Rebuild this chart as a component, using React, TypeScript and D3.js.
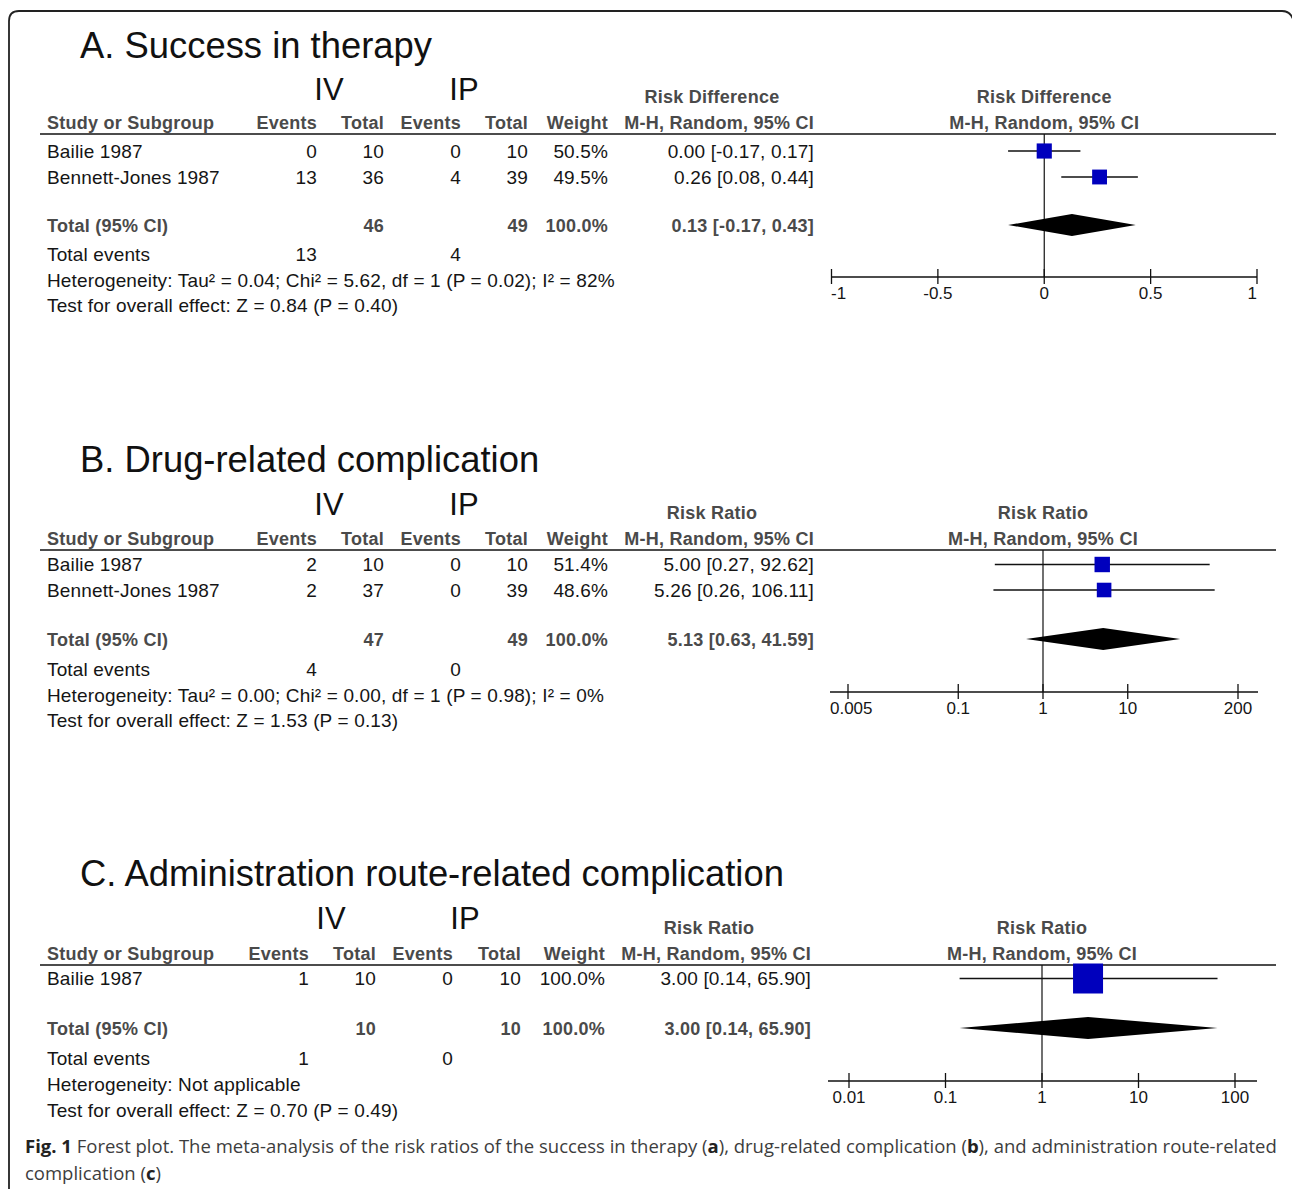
import React from 'react';
import * as d3 from 'd3';

// ---------------- Data ----------------
const panelTitles = [
  'A. Success in therapy',
  'B. Drug-related complication',
  'C. Administration route-related complication',
];
const measureLabels = ['Risk Difference', 'Risk Ratio', 'Risk Ratio'];
const groupLabels = ['IV', 'IP'];
const columnHeaders = ['Events', 'Total', 'Events', 'Total', 'Weight', 'M-H, Random, 95% CI'];

// A. Success in therapy (risk difference)
const studiesA = ['Bailie 1987', 'Bennett-Jones 1987'];
const ivEventsA = [0, 13];
const ivTotalA = [10, 36];
const ipEventsA = [0, 4];
const ipTotalA = [10, 39];
const weightA = [50.5, 49.5];
const estA = [0.0, 0.26];
const lowA = [-0.17, 0.08];
const highA = [0.17, 0.44];
const pooledA = [0.13, -0.17, 0.43];
const totalsA = [46, 49];
const totalEventsA = [13, 4];
const heterogeneityA = 'Heterogeneity: Tau² = 0.04; Chi² = 5.62, df = 1 (P = 0.02); I² = 82%';
const overallA = 'Test for overall effect: Z = 0.84 (P = 0.40)';
const ticksA = [-1, -0.5, 0, 0.5, 1];

// B. Drug-related complication (risk ratio)
const studiesB = ['Bailie 1987', 'Bennett-Jones 1987'];
const ivEventsB = [2, 2];
const ivTotalB = [10, 37];
const ipEventsB = [0, 0];
const ipTotalB = [10, 39];
const weightB = [51.4, 48.6];
const estB = [5.0, 5.26];
const lowB = [0.27, 0.26];
const highB = [92.62, 106.11];
const pooledB = [5.13, 0.63, 41.59];
const totalsB = [47, 49];
const totalEventsB = [4, 0];
const heterogeneityB = 'Heterogeneity: Tau² = 0.00; Chi² = 0.00, df = 1 (P = 0.98); I² = 0%';
const overallB = 'Test for overall effect: Z = 1.53 (P = 0.13)';
const ticksB = [0.005, 0.1, 1, 10, 200];

// C. Administration route-related complication (risk ratio)
const studiesC = ['Bailie 1987'];
const ivEventsC = [1];
const ivTotalC = [10];
const ipEventsC = [0];
const ipTotalC = [10];
const weightC = [100.0];
const estC = [3.0];
const lowC = [0.14];
const highC = [65.9];
const pooledC = [3.0, 0.14, 65.9];
const totalsC = [10, 10];
const totalEventsC = [1, 0];
const heterogeneityC = 'Heterogeneity: Not applicable';
const overallC = 'Test for overall effect: Z = 0.70 (P = 0.49)';
const ticksC = [0.01, 0.1, 1, 10, 100];

// Caption segments: [text, bold]
const captionLine1: [string, boolean][] = [
  ['Fig. 1', true],
  [' Forest plot. The meta-analysis of the risk ratios of the success in therapy (', false],
  ['a', true],
  ['), drug-related complication (', false],
  ['b', true],
  ['), and administration route-related', false],
];
const captionLine2: [string, boolean][] = [
  ['complication (', false],
  ['c', true],
  [')', false],
];

// ---------------- Layout ----------------
const FONT = '"Liberation Sans", Arial, sans-serif';
const CAP_FONT = '"Open Sans", "Noto Sans", sans-serif';
const HEAD_COLOR = '#4a4a4a';
const TEXT_COLOR = '#151515';
const SQUARE_COLOR = '#0000bd';

type Layout = {
  titleY: number;
  groupY: number;
  lineY: number;
  cols: number[];
  ivX: number;
  ipX: number;
  rowY: number[];
  totalY: number;
  eventsY: number;
  hetY: number;
  testY: number;
  axisY: number;
  axisLine: [number, number];
  tickRange: [number, number];
};

const layoutA: Layout = {
  titleY: 58, groupY: 100, lineY: 134,
  cols: [317, 384, 461, 528, 608, 814], ivX: 329, ipX: 464,
  rowY: [151, 177], totalY: 225, eventsY: 254, hetY: 280, testY: 305,
  axisY: 277, axisLine: [831, 1257], tickRange: [831.5, 1257],
};
const layoutB: Layout = {
  titleY: 472, groupY: 515, lineY: 550,
  cols: [317, 384, 461, 528, 608, 814], ivX: 329, ipX: 464,
  rowY: [564.5, 590], totalY: 639, eventsY: 669, hetY: 695, testY: 720,
  axisY: 692, axisLine: [830, 1258], tickRange: [848, 1238],
};
const layoutC: Layout = {
  titleY: 886, groupY: 929, lineY: 965,
  cols: [309, 376, 453, 521, 605, 811], ivX: 331, ipX: 465,
  rowY: [978.5], totalY: 1028, eventsY: 1058, hetY: 1084, testY: 1110,
  axisY: 1081, axisLine: [828, 1257], tickRange: [849, 1235],
};

let ctx: CanvasRenderingContext2D | null = null;
function measure(text: string, font: string): number {
  if (!ctx) ctx = document.createElement('canvas').getContext('2d');
  if (!ctx) return text.length * 9;
  ctx.font = font;
  return ctx.measureText(text).width;
}

const f2 = (v: number) => v.toFixed(2);
const f1 = (v: number) => v.toFixed(1);

type PanelData = {
  title: string;
  measure: string;
  studies: string[];
  ivEvents: number[];
  ivTotal: number[];
  ipEvents: number[];
  ipTotal: number[];
  weight: number[];
  est: number[];
  low: number[];
  high: number[];
  pooled: number[];
  totals: number[];
  totalEvents: number[];
  het: string;
  overall: string;
  ticks: number[];
  log: boolean;
};

function Panel({ d, L }: { d: PanelData; L: Layout }) {
  const dom = [d.ticks[0], d.ticks[d.ticks.length - 1]];
  const x = d.log
    ? d3.scaleLog().domain(dom).range(L.tickRange)
    : d3.scaleLinear().domain(dom).range(L.tickRange);
  const sizeScale = d3.scaleLinear().domain([0, 100]).range([0, 30]);
  const [cEv, cTot, cEv2, cTot2, cW, cCI] = L.cols;
  const base = (y: number) => y + 6.5;
  const tickFont = `17px ${FONT}`;
  const bodyStyle = { fontFamily: FONT, fontSize: 19, letterSpacing: 0.15, fill: TEXT_COLOR };
  const headStyle = { fontFamily: FONT, fontSize: 18, letterSpacing: 0.25, fontWeight: 700, fill: HEAD_COLOR };
  const zeroX = x(d.log ? 1 : 0);

  const num = (v: string | number, xr: number, y: number, bold = false) => (
    <text x={xr} y={base(y)} textAnchor="end" style={bold ? headStyle : bodyStyle}>
      {v}
    </text>
  );

  const [pEst, pLow, pHigh] = d.pooled;
  const dh = 11;
  const diamond =
    d3.line()([
      [x(pLow), L.totalY],
      [x(pEst), L.totalY - dh],
      [x(pHigh), L.totalY],
      [x(pEst), L.totalY + dh],
    ]) + 'Z';

  return (
    <g>
      <text x={80} y={L.titleY} style={{ fontFamily: FONT, fontSize: 36.4, fill: '#111' }}>
        {d.title}
      </text>
      <text x={L.ivX} y={L.groupY} textAnchor="middle" style={{ fontFamily: FONT, fontSize: 31, fill: '#111' }}>
        {groupLabels[0]}
      </text>
      <text x={L.ipX} y={L.groupY} textAnchor="middle" style={{ fontFamily: FONT, fontSize: 31, fill: '#111' }}>
        {groupLabels[1]}
      </text>

      {/* Column headers */}
      <text x={47} y={L.lineY - 5} style={headStyle}>Study or Subgroup</text>
      {columnHeaders.map((h, i) => (
        <text key={i} x={L.cols[i]} y={L.lineY - 5} textAnchor="end" style={headStyle}>{h}</text>
      ))}
      <text x={cCI - 102} y={L.lineY - 31} textAnchor="middle" style={headStyle}>{d.measure}</text>
      <text x={zeroX} y={L.lineY - 31} textAnchor="middle" style={headStyle}>{d.measure}</text>
      <text x={zeroX} y={L.lineY - 5} textAnchor="middle" style={headStyle}>{columnHeaders[5]}</text>
      <line x1={40} x2={1276} y1={L.lineY} y2={L.lineY} stroke="#111" strokeWidth={1.5} />

      {/* Study rows */}
      {d.studies.map((s, i) => (
        <g key={s}>
          <text x={47} y={base(L.rowY[i])} style={bodyStyle}>{s}</text>
          {num(d.ivEvents[i], cEv, L.rowY[i])}
          {num(d.ivTotal[i], cTot, L.rowY[i])}
          {num(d.ipEvents[i], cEv2, L.rowY[i])}
          {num(d.ipTotal[i], cTot2, L.rowY[i])}
          {num(f1(d.weight[i]) + '%', cW, L.rowY[i])}
          {num(`${f2(d.est[i])} [${f2(d.low[i])}, ${f2(d.high[i])}]`, cCI, L.rowY[i])}
        </g>
      ))}

      {/* Total rows */}
      <text x={47} y={base(L.totalY)} style={headStyle}>Total (95% CI)</text>
      {num(d.totals[0], cTot, L.totalY, true)}
      {num(d.totals[1], cTot2, L.totalY, true)}
      {num('100.0%', cW, L.totalY, true)}
      {num(`${f2(pEst)} [${f2(pLow)}, ${f2(pHigh)}]`, cCI, L.totalY, true)}
      <text x={47} y={base(L.eventsY)} style={bodyStyle}>Total events</text>
      {num(d.totalEvents[0], cEv, L.eventsY)}
      {num(d.totalEvents[1], cEv2, L.eventsY)}
      <text x={47} y={base(L.hetY)} style={bodyStyle}>{d.het}</text>
      <text x={47} y={base(L.testY)} style={bodyStyle}>{d.overall}</text>

      {/* Plot */}
      <line x1={zeroX} x2={zeroX} y1={L.lineY} y2={L.axisY} stroke="#111" strokeWidth={1.2} />
      {d.studies.map((s, i) => {
        const sz = sizeScale(d.weight[i]);
        return (
          <g key={'p' + s}>
            <line x1={x(d.low[i])} x2={x(d.high[i])} y1={L.rowY[i]} y2={L.rowY[i]} stroke="#111" strokeWidth={1.3} />
            <rect x={x(d.est[i]) - sz / 2} y={L.rowY[i] - sz / 2} width={sz} height={sz} fill={SQUARE_COLOR} />
          </g>
        );
      })}
      <path d={diamond} fill="#000" />

      {/* Axis */}
      <line x1={L.axisLine[0]} x2={L.axisLine[1]} y1={L.axisY} y2={L.axisY} stroke="#111" strokeWidth={1.5} />
      {d.ticks.map((t) => {
        const tx = x(t);
        const label = String(t);
        const w = measure(label, tickFont);
        const cx = Math.max(L.axisLine[0] + w / 2, Math.min(L.axisLine[1] - w / 2, tx));
        return (
          <g key={'t' + t}>
            <line x1={tx} x2={tx} y1={L.axisY - 8} y2={L.axisY + 7} stroke="#111" strokeWidth={1.3} />
            <text x={cx} y={L.axisY + 22} textAnchor="middle" style={{ fontFamily: FONT, fontSize: 17, fill: TEXT_COLOR }}>
              {label}
            </text>
          </g>
        );
      })}
    </g>
  );
}

const dataA: PanelData = {
  title: panelTitles[0], measure: measureLabels[0], studies: studiesA,
  ivEvents: ivEventsA, ivTotal: ivTotalA, ipEvents: ipEventsA, ipTotal: ipTotalA,
  weight: weightA, est: estA, low: lowA, high: highA, pooled: pooledA, totals: totalsA,
  totalEvents: totalEventsA, het: heterogeneityA, overall: overallA, ticks: ticksA, log: false,
};
const dataB: PanelData = {
  title: panelTitles[1], measure: measureLabels[1], studies: studiesB,
  ivEvents: ivEventsB, ivTotal: ivTotalB, ipEvents: ipEventsB, ipTotal: ipTotalB,
  weight: weightB, est: estB, low: lowB, high: highB, pooled: pooledB, totals: totalsB,
  totalEvents: totalEventsB, het: heterogeneityB, overall: overallB, ticks: ticksB, log: true,
};
const dataC: PanelData = {
  title: panelTitles[2], measure: measureLabels[2], studies: studiesC,
  ivEvents: ivEventsC, ivTotal: ivTotalC, ipEvents: ipEventsC, ipTotal: ipTotalC,
  weight: weightC, est: estC, low: lowC, high: highC, pooled: pooledC, totals: totalsC,
  totalEvents: totalEventsC, het: heterogeneityC, overall: overallC, ticks: ticksC, log: true,
};

function CaptionLine({ segs, y, size }: { segs: [string, boolean][]; y: number; size: number }) {
  let cx = 25;
  return (
    <g>
      {segs.map(([t, b], i) => {
        const font = `${b ? 'bold ' : ''}${size}px ${CAP_FONT}`;
        const w = measure(t.replace(/ /g, '\u00a0'), font);
        const el = (
          <text
            key={i}
            x={cx}
            y={y}
            style={{
              fontFamily: CAP_FONT,
              fontSize: size,
              fontWeight: b ? 700 : 400,
              fill: b ? '#222' : '#3d3d3d',
              whiteSpace: 'pre',
            }}
          >
            {t}
          </text>
        );
        cx += w;
        return el;
      })}
    </g>
  );
}

export default function App() {
  // choose caption font size so that the first line spans the reference width
  const ref = 19;
  const w1 = captionLine1.reduce(
    (s, [t, b]) => s + measure(t.replace(/ /g, '\u00a0'), `${b ? 'bold ' : ''}${ref}px ${CAP_FONT}`),
    0
  );
  const capSize = Math.min(20, (ref * 1252) / w1);
  return (
    <svg
      width={1292}
      height={1189}
      viewBox="0 0 1292 1189"
      style={{ position: 'absolute', left: 0, top: 0, background: '#fff' }}
    >
      <rect x={0} y={0} width={1292} height={1189} fill="#fff" />
      <path
        d="M9,1189 L9,21 Q9,11 19,11 L1282,11 Q1290,11 1293,19"
        fill="none"
        stroke="#222"
        strokeWidth={1.8}
      />
      <Panel d={dataA} L={layoutA} />
      <Panel d={dataB} L={layoutB} />
      <Panel d={dataC} L={layoutC} />

      <CaptionLine segs={captionLine1} y={1153} size={capSize} />
      <CaptionLine segs={captionLine2} y={1180} size={capSize} />
    </svg>
  );
}
